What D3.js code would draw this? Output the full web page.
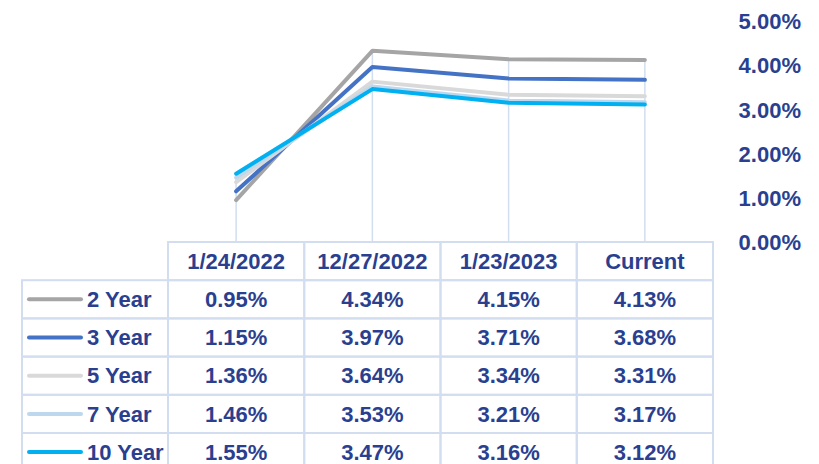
<!DOCTYPE html>
<html>
<head>
<meta charset="utf-8">
<script src="https://cdn.jsdelivr.net/npm/d3@7"></script>
<style>
  html, body { margin: 0; padding: 0; background: #fff; }
  svg { display: block; font-family: Arial, "Liberation Sans", sans-serif; font-weight: bold; }
</style>
</head>
<body>
<div id="chart"></div>
<script>
const dates = ['1/24/2022', '12/27/2022', '1/23/2023', 'Current'];
const seriesNames = ['2 Year', '3 Year', '5 Year', '7 Year', '10 Year'];
const yr2 = [0.95, 4.34, 4.15, 4.13];
const yr3 = [1.15, 3.97, 3.71, 3.68];
const yr5 = [1.36, 3.64, 3.34, 3.31];
const yr7 = [1.46, 3.53, 3.21, 3.17];
const yr10 = [1.55, 3.47, 3.16, 3.12];
const yTicks = [0, 1, 2, 3, 4, 5];

const colors = ['#a5a5a5', '#4472c4', '#d9d9d9', '#bdd7ee', '#00b0f0'];
const textColor = '#2a3f8f';
const gridColor = '#d3ddf0';
const fontSize = 22;

const width = 819, height = 464;
const series = [yr2, yr3, yr5, yr7, yr10].map((values, i) => ({
  name: seriesNames[i], color: colors[i], values
}));

const svg = d3.select('#chart')
  .append('svg')
    .attr('width', width)
    .attr('height', height);

// columns of the data table also place the line points
const x = d3.scaleBand()
  .domain(dates)
  .range([168, 713]);

const y = d3.scaleLinear()
  .domain([0, 5])
  .range([242, 21.7]);

const rowY = d3.scaleBand()
  .domain(['header', ...seriesNames])
  .range([242, 242 + 38.2 * 6]);

const cx = d => x(d) + x.bandwidth() / 2;

// drop lines from the highest point down to the table
svg.append('g')
  .selectAll('line')
  .data(dates)
  .join('line')
    .attr('x1', d => cx(d))
    .attr('x2', d => cx(d))
    .attr('y1', (d, i) => y(d3.max(series, s => s.values[i])))
    .attr('y2', y(0))
    .attr('stroke', gridColor)
    .attr('stroke-width', 1.5);

// y axis labels on the right
svg.append('g')
  .selectAll('text')
  .data(yTicks)
  .join('text')
    .attr('x', 801)
    .attr('y', d => y(d))
    .attr('dy', '0.35em')
    .attr('text-anchor', 'end')
    .attr('fill', textColor)
    .attr('font-size', fontSize)
    .text(d => d3.format('.2f')(d) + '%');

// lines
const line = d3.line()
  .x((d, i) => cx(dates[i]))
  .y(d => y(d));

svg.append('g')
  .selectAll('path')
  .data(series)
  .join('path')
    .attr('d', d => line(d.values))
    .attr('fill', 'none')
    .attr('stroke', d => d.color)
    .attr('stroke-width', 4)
    .attr('stroke-linejoin', 'round')
    .attr('stroke-linecap', 'round');

// data table
const table = svg.append('g');
const bw = x.bandwidth(), rh = rowY.bandwidth();

// header cells
table.selectAll('.hcell')
  .data(dates)
  .join('rect')
    .attr('class', 'hcell')
    .attr('x', d => x(d))
    .attr('y', rowY('header'))
    .attr('width', bw)
    .attr('height', rh)
    .attr('fill', 'none')
    .attr('stroke', gridColor)
    .attr('stroke-width', 2);

table.selectAll('.htext')
  .data(dates)
  .join('text')
    .attr('class', 'htext')
    .attr('x', d => cx(d))
    .attr('y', rowY('header') + rh / 2)
    .attr('dy', '0.35em')
    .attr('text-anchor', 'middle')
    .attr('fill', textColor)
    .attr('font-size', fontSize)
    .text(d => d);

const rows = table.selectAll('.row')
  .data(series)
  .join('g')
    .attr('class', 'row')
    .attr('transform', d => `translate(0,${rowY(d.name)})`);

rows.append('rect')
  .attr('x', 22)
  .attr('width', 168 - 22)
  .attr('height', rh)
  .attr('fill', 'none')
  .attr('stroke', gridColor)
  .attr('stroke-width', 2);

rows.append('line')
  .attr('x1', 29)
  .attr('x2', 81)
  .attr('y1', rh / 2)
  .attr('y2', rh / 2)
  .attr('stroke', d => d.color)
  .attr('stroke-width', 4)
  .attr('stroke-linecap', 'round');

rows.append('text')
  .attr('x', 87)
  .attr('y', rh / 2)
  .attr('dy', '0.35em')
  .attr('fill', textColor)
  .attr('font-size', fontSize)
  .text(d => d.name);

rows.selectAll('.cell')
  .data(d => d.values.map((v, i) => ({date: dates[i], v})))
  .join('rect')
    .attr('class', 'cell')
    .attr('x', d => x(d.date))
    .attr('width', bw)
    .attr('height', rh)
    .attr('fill', 'none')
    .attr('stroke', gridColor)
    .attr('stroke-width', 2);

rows.selectAll('.val')
  .data(d => d.values.map((v, i) => ({date: dates[i], v})))
  .join('text')
    .attr('class', 'val')
    .attr('x', d => cx(d.date))
    .attr('y', rh / 2)
    .attr('dy', '0.35em')
    .attr('text-anchor', 'middle')
    .attr('fill', textColor)
    .attr('font-size', fontSize)
    .text(d => d3.format('.2f')(d.v) + '%');
</script>
</body>
</html>
